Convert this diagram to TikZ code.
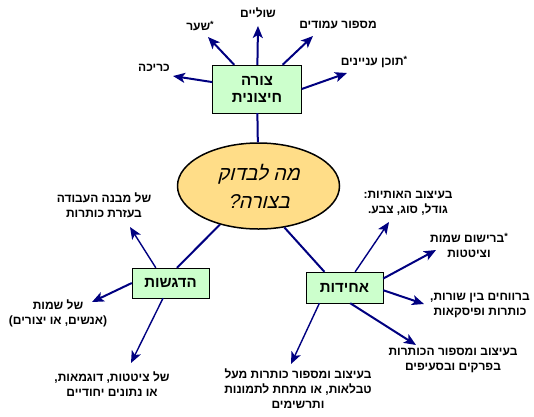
\documentclass[tikz,border=0pt]{standalone}
\usepackage{fontspec}
\usetikzlibrary{shapes.geometric,arrows.meta}
\TeXXeTstate=1
\newfontfamily\hebfont[Script=Hebrew]{Liberation Sans}
\newfontfamily\hebhand[Script=Hebrew,FakeSlant=0.25]{Liberation Sans}
\newcommand{\heb}[1]{\beginR #1\endR}
\newcommand{\astmark}{\raisebox{3pt}{\fontsize{9}{9}\selectfont *}}
\definecolor{boxgreen}{HTML}{CCFFCC}
\definecolor{ovalfill}{HTML}{FFDD88}
\definecolor{linkblue}{HTML}{000080}

\tikzstyle{topic} = [rectangle, minimum width=77pt, minimum height=30pt, text centered, draw=black, fill=boxgreen, inner sep=0pt, align=center, font=\hebfont\bfseries\fontsize{15}{17}\selectfont]
\tikzstyle{question} = [ellipse, minimum width=162pt, minimum height=86pt, inner sep=0pt, draw=black, line width=1.5pt, fill=ovalfill, align=center, font=\hebhand\fontsize{20}{28}\selectfont]
\tikzstyle{item} = [inner sep=0pt, align=center, font=\hebfont\bfseries\fontsize{12}{15}\selectfont]
\tikzstyle{flow} = [line width=2pt, draw=linkblue, -{Stealth[length=12pt,width=10pt,inset=3pt]}]
\tikzstyle{thinflow} = [flow, line width=1.4pt]
\tikzstyle{link} = [line width=2pt, draw=linkblue]

\begin{document}
\begin{tikzpicture}[x=1pt,y=-1pt]
      \useasboundingbox (0,0) rectangle (534,416);

      \node (ell) [question] at (258.5,186) {\heb{מה לבדוק}\\\heb{בצורה?}};
      \node (shape) [topic, minimum width=89pt, minimum height=48pt] at (257,89) {\heb{צורה}\\\heb{חיצונית}};
      \node (emph) [topic] at (170.5,283) {\heb{הדגשות}};
      \node (unif) [topic, minimum height=31pt] at (344.5,287.5) {\heb{אחידות}};

      % outer shape
      \node (cover) [item] at (154,68) {\heb{כריכה}};
      \node (gate) [item] at (200,26) {\heb{\astmark שער}};
      \node (margin) [item] at (258,13) {\heb{שוליים}};
      \node (pages) [item] at (338,25) {\heb{מספור עמודים}};
      \node (toc) [item] at (374,62) {\heb{\astmark תוכן עניינים}};
      \coordinate (tcover) at (173,76);
      \coordinate (tgate) at (208,37);
      \coordinate (tmargin) at (258,26);
      \coordinate (tpages) at (313,36);
      \coordinate (ttoc) at (347,73);

      % emphasis
      \node (struct) [item] at (104,205) {\heb{של מבנה העבודה}\\\heb{בעזרת כותרות}};
      \node (names) [item] at (58,313) {\heb{של שמות}\\\heb{(אנשים, או יצורים)}};
      \node (quotes) [item] at (112,384) {\heb{של ציטטות, דוגמאות,}\\\heb{או נתונים יחודיים}};
      \coordinate (tstruct) at (130,227);
      \coordinate (tnames) at (92,302);
      \coordinate (tquotes) at (131,363);

      % uniformity
      \node (letters) [item] at (408,203) {\heb{בעיצוב האותיות:}\\\heb{גודל, סוג, צבע.}};
      \node (listing) [item] at (469,245) {\heb{\astmark ברישום שמות}\\\heb{וציטטות}};
      \node (spacing) [item] at (480,305) {\heb{ברווחים בין שורות,}\\\heb{כותרות ופיסקאות}};
      \node (heads) [item] at (453,360) {\heb{בעיצוב ומספור הכותרות}\\\heb{בפרקים ובסעיפים}};
      \node (tables) [item] at (298,389) {\heb{בעיצוב ומספור כותרות מעל}\\\heb{טבלאות, או מתחת לתמונות}\\\heb{ותרשימים}};
      \coordinate (tletters) at (389,222);
      \coordinate (tlisting) at (436,250);
      \coordinate (tspacing) at (424,304);
      \coordinate (theads) at (416,345);
      \coordinate (ttables) at (291,364);

      \draw [link] (shape) -- (ell);
      \draw [link] (ell.225) -- (emph.67);
      \draw [link] (ell.-58) -- (unif.142);

      \draw [flow] (shape) -- (tcover);
      \draw [flow] (shape) -- (tgate);
      \draw [flow] (shape) -- (tmargin);
      \draw [flow] (shape) -- (tpages);
      \draw [flow] (shape.east) -- (ttoc);

      \draw [thinflow] (emph.134) -- (tstruct);
      \draw [flow] (emph.west) -- (tnames);
      \draw [thinflow] (emph) -- (tquotes);

      \draw [thinflow] (unif) -- (tletters);
      \draw [flow] (unif.13) -- (tlisting);
      \draw [flow] (unif.-4) -- (tspacing);
      \draw [flow] (unif.-70) -- (theads);
      \draw [thinflow] (unif.-148) -- (ttables);
\end{tikzpicture}
\end{document}
